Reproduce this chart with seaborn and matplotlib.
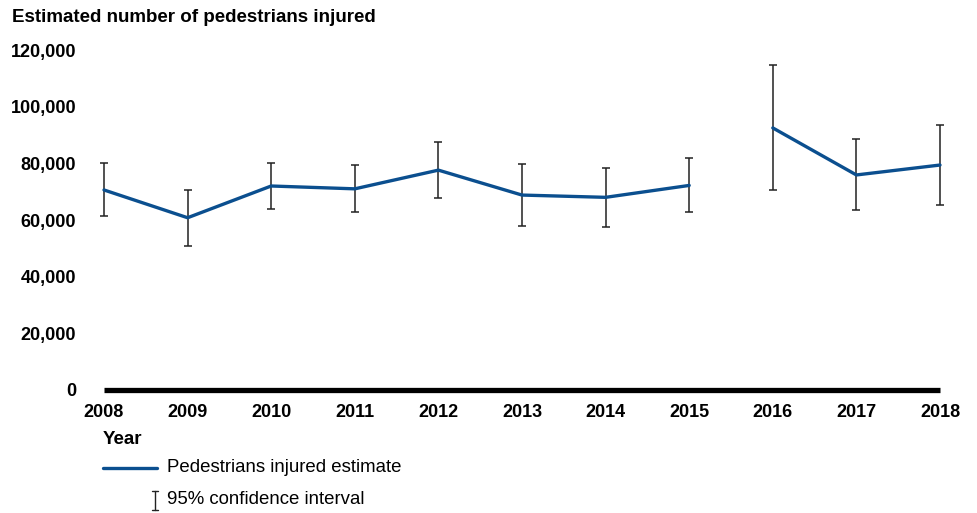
import numpy as np
import pandas as pd
import seaborn as sns
import matplotlib.pyplot as plt
from matplotlib.lines import Line2D

# ===============================
# Data
# ===============================
years = [2008, 2009, 2010, 2011, 2012, 2013, 2014, 2015, 2016, 2017, 2018]
estimate = [70600, 60800, 72000, 71000, 77600, 68800, 68000, 72200, 92500, 75900, 79400]
ci_low = [61400, 51000, 63800, 62800, 67600, 58000, 57400, 62800, 70600, 63600, 65400]
ci_high = [80000, 70600, 80000, 79400, 87500, 79800, 78500, 81900, 114700, 88500, 93600]
# line is broken between 2015 and 2016
period = ["a"] * 8 + ["b"] * 3

df = pd.DataFrame({"Year": years, "Estimate": estimate, "Low": ci_low,
                   "High": ci_high, "Period": period})

blue = "#0B4F8F"

sns.set_style("white")
plt.rcParams["font.family"] = ["Liberation Sans", "DejaVu Sans"]
plt.rcParams["text.color"] = "black"
plt.rcParams["xtick.color"] = "black"
plt.rcParams["ytick.color"] = "black"

fig = plt.figure(figsize=(9.78, 5.13), dpi=100)
ax = fig.add_axes([104 / 978, 1 - 390 / 513, (940 - 104) / 978, (390 - 50) / 513])

# ===============================
# Confidence intervals + estimate line
# ===============================
ax.errorbar(df["Year"], df["Estimate"],
            yerr=[df["Estimate"] - df["Low"], df["High"] - df["Estimate"]],
            fmt="none", ecolor="#222222", elinewidth=1.1, capsize=3,
            capthick=1.1, clip_on=False, zorder=2)
sns.lineplot(data=df, x="Year", y="Estimate", hue="Period",
             palette=[blue, blue], linewidth=2.4, legend=False, ax=ax,
             clip_on=False, zorder=3)

ax.set_xlim(2008, 2018)
ax.set_ylim(0, 120000)
ax.set_xticks(years)
ax.set_yticks(np.arange(0, 120001, 20000))
ax.set_xticklabels([str(y) for y in years], fontsize=13, fontweight="bold")
ax.set_yticklabels([f"{v:,}" for v in range(0, 120001, 20000)],
                   fontsize=13, fontweight="bold")
ax.tick_params(axis="x", length=0, pad=10)
ax.tick_params(axis="y", length=0, pad=20)
ax.set_xlabel("")
ax.set_ylabel("")

for s in ["top", "right", "left"]:
    ax.spines[s].set_visible(False)
ax.spines["bottom"].set_linewidth(3.8)
ax.spines["bottom"].set_color("black")
ax.spines["bottom"].set_capstyle("butt")

# ===============================
# Titles and legend
# ===============================
fig.text(12 / 978, 1 - 18 / 513, "Estimated number of pedestrians injured",
         fontsize=13.5, fontweight="bold", va="center", ha="left")
fig.text(103 / 978, 1 - 440 / 513, "Year", fontsize=13.5, fontweight="bold",
         va="center", ha="left")

fig.add_artist(Line2D([103 / 978, 157 / 978], [1 - 468 / 513, 1 - 468 / 513],
                      color=blue, linewidth=2.4, transform=fig.transFigure))
fig.text(167 / 978, 1 - 468 / 513, "Pedestrians injured estimate",
         fontsize=13.4, va="center", ha="left")

ci_x = 155 / 978
ci_top, ci_bot = 1 - 491 / 513, 1 - 510 / 513
fig.add_artist(Line2D([ci_x, ci_x], [ci_top, ci_bot], color="#222222",
                      linewidth=1.0, transform=fig.transFigure))
for yy in (ci_top, ci_bot):
    fig.add_artist(Line2D([ci_x - 3 / 978, ci_x + 3 / 978], [yy, yy],
                          color="#222222", linewidth=1.0,
                          transform=fig.transFigure))
fig.text(167 / 978, 1 - 500 / 513, "95% confidence interval",
         fontsize=13.4, va="center", ha="left")

fig.savefig("out.png", dpi=100)
